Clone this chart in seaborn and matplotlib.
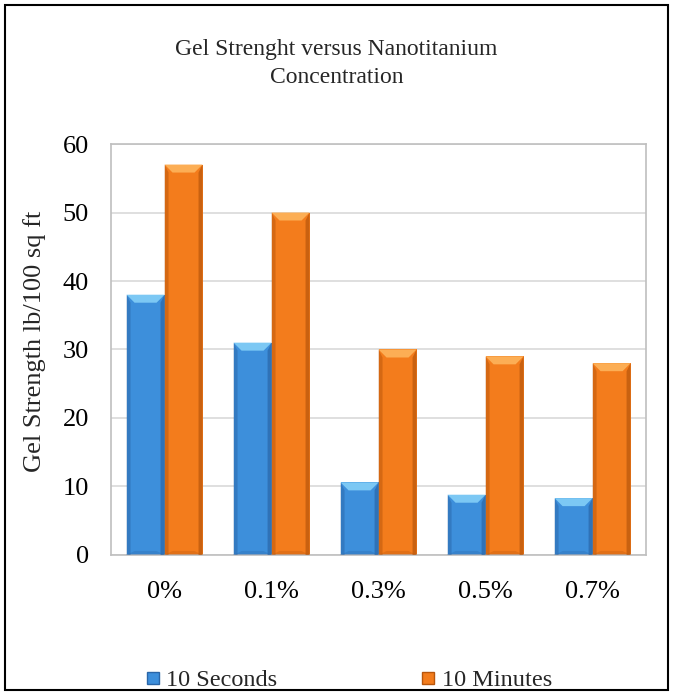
import numpy as np
import pandas as pd
import matplotlib
matplotlib.use("Agg")
import matplotlib.pyplot as plt
from matplotlib.patches import Polygon, Rectangle
from matplotlib.lines import Line2D
import seaborn as sns

# Data
concentrations = ["0%", "0.1%", "0.3%", "0.5%", "0.7%"]
seconds_10 = [38, 31, 10.6, 8.8, 8.3]
minutes_10 = [57, 50, 30, 29, 28]
series_names = ["10 Seconds", "10 Minutes"]

df = pd.DataFrame({
    "Concentration": concentrations * 2,
    "Gel": seconds_10 + minutes_10,
    "Series": [series_names[0]] * 5 + [series_names[1]] * 5,
})

sns.set_theme(style="white")
plt.rcParams["font.family"] = ["Liberation Serif", "DejaVu Serif"]

base = {"10 Seconds": "#3d8fdb", "10 Minutes": "#f37c1c"}
light = {"10 Seconds": "#7cc8f4", "10 Minutes": "#fcae55"}
dark = {"10 Seconds": "#2a66a8", "10 Minutes": "#b8560c"}

fig = plt.figure(figsize=(6.73, 6.94), dpi=100)
ax = fig.add_axes([0.165, 0.2003, 0.795, 0.5922])

sns.barplot(data=df, x="Concentration", y="Gel", hue="Series",
            palette=base, width=0.71, gap=0, saturation=1,
            edgecolor="none", legend=False, ax=ax, errorbar=None)

# Bevel shading on each bar
px_per_unit_y = 411 / 60.0
px_per_unit_x = 535 / 5.0
bh = 8 / px_per_unit_y
bw = 8 / px_per_unit_x
for i, patch in enumerate(ax.patches):
    name = series_names[i // 5]
    x0, y0 = patch.get_x(), patch.get_y()
    w, h = patch.get_width(), patch.get_height()
    x1, y1 = x0 + w, y0 + h
    # top bevel
    ax.add_patch(Polygon([(x0, y1), (x1, y1), (x1 - bw, y1 - bh), (x0 + bw, y1 - bh)],
                         closed=True, facecolor=light[name], edgecolor="none", zorder=3))
    # side edges
    ax.add_patch(Polygon([(x0, y0), (x0, y1), (x0 + bw * 0.5, y1 - bh), (x0 + bw * 0.5, y0)],
                         closed=True, facecolor=dark[name], alpha=0.5, edgecolor="none", zorder=3))
    ax.add_patch(Polygon([(x1, y0), (x1, y1), (x1 - bw * 0.5, y1 - bh), (x1 - bw * 0.5, y0)],
                         closed=True, facecolor=dark[name], alpha=0.7, edgecolor="none", zorder=3))
    ax.add_patch(Polygon([(x0, y0), (x1, y0), (x1 - bw, y0 + bh * 0.5), (x0 + bw, y0 + bh * 0.5)],
                         closed=True, facecolor=dark[name], alpha=0.3, edgecolor="none", zorder=3))

ax.set_ylim(0, 60)
ax.set_xlim(-0.5, 4.5)
ax.set_yticks(range(0, 61, 10))
ax.yaxis.grid(True, color="#d9d9d9", linewidth=1.2)
ax.set_axisbelow(True)
for s in ax.spines.values():
    s.set_visible(True)
    s.set_color("#bfbfbf")
    s.set_linewidth(1.2)
ax.tick_params(axis="both", length=0, labelsize=19, colors="black")
ax.tick_params(axis="y", pad=16)
ax.tick_params(axis="x", pad=19)
ax.set_xlabel("")
ax.set_ylabel("Gel Strength lb/100 sq ft", fontsize=19)
ax.yaxis.set_label_coords(-0.122, 0.52)

fig.text(0.5, 0.9085, "Gel Strenght versus Nanotitanium\nConcentration",
         ha="center", va="center", fontsize=17, linespacing=1.45)

handles = [Line2D([], [], marker="s", linestyle="none", markersize=9,
                  markerfacecolor=base[n], markeredgecolor=dark[n]) for n in series_names]
fig.legend(handles, series_names, loc="center left", bbox_to_anchor=(0.184, 0.02),
           ncol=2, frameon=False, fontsize=17.5, handletextpad=0.25,
           columnspacing=5.9, handlelength=0.6)

fig.add_artist(Rectangle((5 / 673, 4 / 694), 663 / 673, 685 / 694,
                         transform=fig.transFigure, fill=False,
                         edgecolor="black", linewidth=1.5))

fig.savefig("out.png", dpi=100)
